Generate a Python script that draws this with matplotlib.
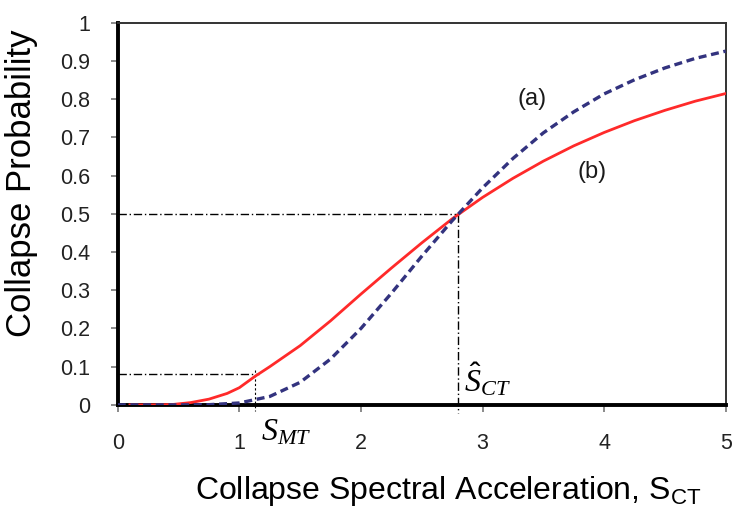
import matplotlib
matplotlib.use("Agg")
import matplotlib.pyplot as plt

plt.rcParams["font.family"] = "Liberation Sans"
plt.rcParams["mathtext.fontset"] = "custom"
plt.rcParams["mathtext.rm"] = "Liberation Sans"
plt.rcParams["mathtext.it"] = "Liberation Serif:italic"

# values
sa = [0.0, 0.25, 0.5, 0.75, 1.0, 1.25, 1.5, 1.75, 2.0, 2.25, 2.5, 2.75,
      3.0, 3.25, 3.5, 3.75, 4.0, 4.25, 4.5, 4.75, 5.0]
curve_a = [0.0, 0.0, 0.0, 0.0005, 0.005, 0.022, 0.059, 0.12, 0.20, 0.292, 0.389, 0.482,
           0.568, 0.645, 0.712, 0.767, 0.814, 0.851, 0.882, 0.907, 0.926]
sa_b = [0.1, 0.25, 0.45, 0.6, 0.75, 0.9, 1.0, 1.13, 1.25, 1.5, 1.75, 2.0, 2.25, 2.5, 2.75,
        3.0, 3.25, 3.5, 3.75, 4.0, 4.25, 4.5, 4.75, 5.0]
curve_b = [0.0, 0.0, 0.001, 0.006, 0.015, 0.03, 0.045, 0.075, 0.10, 0.155, 0.22, 0.29,
           0.358, 0.424, 0.487, 0.543, 0.593, 0.638, 0.678, 0.713, 0.744, 0.771, 0.795, 0.815]

s_median = 2.8
s_mt = 1.13
p_mt = 0.08

x_ticks = [0, 1, 2, 3, 4, 5]
y_ticks = [0, 0.1, 0.2, 0.3, 0.4, 0.5, 0.6, 0.7, 0.8, 0.9, 1]
y_labels = ["0", "0.1", "0.2", "0.3", "0.4", "0.5", "0.6", "0.7", "0.8", "0.9", "1"]

fig = plt.figure(figsize=(7.36, 5.08), dpi=100)
ax = fig.add_axes([0.160, 0.203, 0.826, 0.752])

# guide lines
guide = dict(color="black", lw=1.0, linestyle=(0, (6, 2, 1, 2)), clip_on=False)
ax.plot([0, s_median], [0.5, 0.5], **guide)
ax.plot([s_median, s_median], [0.5, -0.02], **guide)
ax.plot([0, s_mt + 0.03], [p_mt, p_mt], **guide)
ax.plot([s_mt, s_mt], [p_mt + 0.01, -0.015], color="black", lw=0.8,
        linestyle=(0, (2, 2)), clip_on=False)

ax.plot(sa_b, curve_b, color="#ff2a2a", lw=2.0, zorder=3)
ax.plot(sa, curve_a, color="#33337f", lw=2.4, linestyle=(0, (2.4, 1.4)), zorder=4)

ax.text(3.41, 0.80, "(a)", fontsize=17, ha="center", va="center", color="#1a1a1a")
ax.text(3.90, 0.61, "(b)", fontsize=17, ha="center", va="center", color="#1a1a1a")
ax.text(1.18, -0.092, r"$S_{MT}$", fontsize=23, ha="left", va="baseline")
ax.text(2.85, 0.035, r"$\hat{S}_{CT}$", fontsize=23, ha="left", va="baseline")

ax.set_xlim(0, 5)
ax.set_ylim(0, 1)
ax.set_xticks(x_ticks)
ax.set_yticks(y_ticks)
ax.set_yticklabels(y_labels)
ax.tick_params(direction="out", length=5, width=1.2, color="#777777",
               labelsize=15.5, labelcolor="#222222")
ax.tick_params(axis="x", pad=15)
ax.tick_params(axis="y", pad=15)

for side in ["left", "bottom"]:
    ax.spines[side].set_linewidth(2.8)
    ax.spines[side].set_color("black")
for side in ["top", "right"]:
    ax.spines[side].set_linewidth(1.4)
    ax.spines[side].set_color("#333333")

ax.set_ylabel("Collapse Probability", fontsize=25, va="center")
ax.yaxis.set_label_coords(-0.158, 0.58)
ax.set_xlabel(r"Collapse Spectral Acceleration, $\mathrm{S_{CT}}$", fontsize=23, va="center")
ax.xaxis.set_label_coords(0.543, -0.225)

fig.savefig("out.png", dpi=100)
